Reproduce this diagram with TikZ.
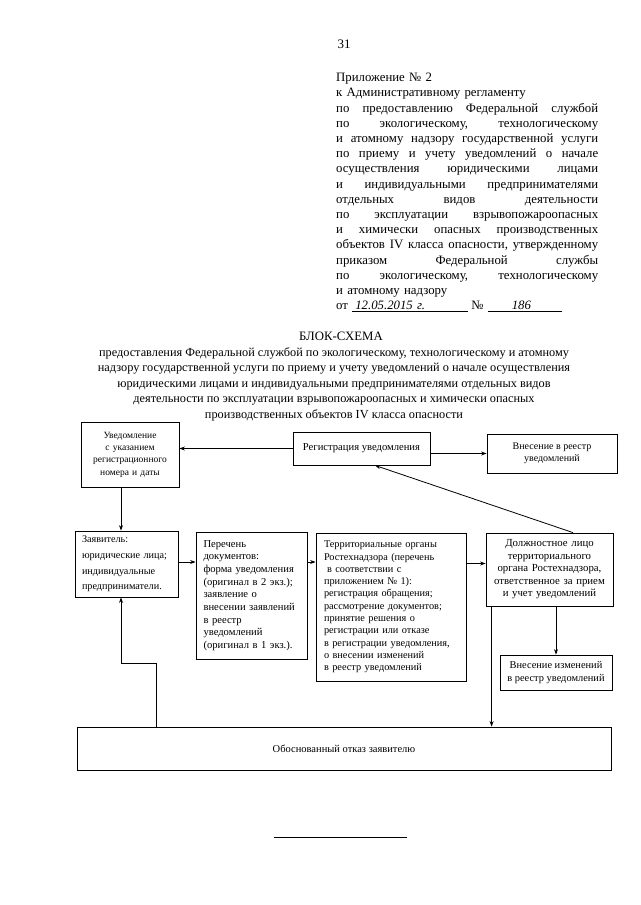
\documentclass[tikz,border=0pt]{standalone}
\usepackage{fontspec}
\setmainfont{Liberation Serif}
\usetikzlibrary{positioning, arrows.meta}
\newlength{\hdrw}\setlength{\hdrw}{262pt}
\newcommand{\jline}[1]{\leavevmode\hbox to \hdrw{#1}\\}

\begin{document}
\begin{tikzpicture}[x=1pt, y=-1pt, >={Stealth[length=5.5pt, width=4pt]},
    box/.style={draw, line width=0.8pt, inner sep=0pt, font=\fontsize{10}{12.4}\selectfont},
    link/.style={->, line width=0.8pt}]
    \useasboundingbox [fill=white] (0,0) rectangle (640,905);
    \node at (344,44) [font=\fontsize{13}{15}\selectfont] (pagenum) {31};
    \node at (336,73) [anchor=north west, inner sep=0pt, text width=262pt, align=left, font=\fontsize{12.8}{15.2}\selectfont] (appx) {%
        Приложение № 2\\
        к Административному регламенту\\
        \jline{по \hfill предоставлению \hfill Федеральной \hfill службой}
        \jline{по \hfill экологическому, \hfill технологическому}
        \jline{и \hfill атомному \hfill надзору \hfill государственной \hfill услуги}
        \jline{по \hfill приему \hfill и \hfill учету \hfill уведомлений \hfill о \hfill начале}
        \jline{осуществления \hfill юридическими \hfill лицами}
        \jline{и \hfill индивидуальными \hfill предпринимателями}
        \jline{отдельных \hfill видов \hfill деятельности}
        \jline{по \hfill эксплуатации \hfill взрывопожароопасных}
        \jline{и \hfill химически \hfill опасных \hfill производственных}
        \jline{объектов \hfill IV \hfill класса \hfill опасности, \hfill утвержденному}
        \jline{приказом \hfill Федеральной \hfill службы}
        \jline{по \hfill экологическому, \hfill технологическому}
        и атомному надзору\\
        от \underline{\makebox[116pt][l]{\hspace{3pt}\itshape 12.05.2015 г.}}\hspace{3pt}№ \underline{\makebox[74pt][l]{\hspace{24pt}\itshape 186}}};
    \node at (341,336) [font=\fontsize{12.8}{15}\selectfont] (title) {БЛОК-СХЕМА};
    \node at (334,344) [anchor=north, align=center, font=\fontsize{12.3}{15.5}\selectfont] (subtitle) {%
        предоставления Федеральной службой по экологическому, технологическому и атомному\\
        надзору государственной услуги по приему и учету уведомлений о начале осуществления\\
        юридическими лицами и индивидуальными предпринимателями отдельных видов\\
        деятельности по эксплуатации взрывопожароопасных и химически опасных\\
        производственных объектов IV класса опасности};

    \node at (130,454.5) [box, minimum width=98, minimum height=65, text width=92, align=center, font=\fontsize{9.5}{12.4}\selectfont] (notice) {Уведомление\\с указанием\\регистрационного\\номера и даты};
    \node at (361.5,448.5) [box, minimum width=137, minimum height=33, align=center, font=\fontsize{10.6}{12.4}\selectfont] (reg) {Регистрация уведомления};
    \node at (552,453.5) [box, minimum width=130, minimum height=39, align=center] (entry) {Внесение в реестр\\уведомлений};
    \node at (126.5,564) [box, minimum width=103, minimum height=66, text width=89, align=left, font=\fontsize{10.2}{15.7}\selectfont] (applicant) {Заявитель:\\юридические лица;\\индивидуальные\\предприниматели.};
    \node at (251.5,595.5) [box, minimum width=111, minimum height=127, text width=96, align=left, font=\fontsize{10.6}{12.7}\selectfont] (docs) {Перечень\\документов:\\форма уведомления\\(оригинал в 2 экз.);\\заявление о\\внесении заявлений\\в реестр\\уведомлений\\(оригинал в 1 экз.).};
    \node at (391,607) [box, minimum width=150, minimum height=148, text width=134, align=left, font=\fontsize{10.3}{12.3}\selectfont] (terr) {Территориальные органы\\Ростехнадзора (перечень\\\hspace*{3pt}в соответствии с\\приложением № 1):\\регистрация обращения;\\рассмотрение документов;\\принятие решения о\\регистрации или отказе\\в регистрации уведомления,\\о внесении изменений\\в реестр уведомлений};
    \node at (549.5,569.5) [box, minimum width=127, minimum height=73, text width=123, align=center, font=\fontsize{10.8}{12.5}\selectfont] (officer) {Должностное лицо\\территориального\\органа Ростехнадзора,\\ответственное за прием\\и учет уведомлений};
    \node at (556,672.5) [box, minimum width=112, minimum height=35, align=center, font=\fontsize{10.4}{12.4}\selectfont] (change) {Внесение изменений\\в реестр уведомлений};
    \node at (344,748.5) [box, minimum width=534, minimum height=43, font=\fontsize{10.5}{12.4}\selectfont] (refusal) {Обоснованный отказ заявителю};

    \coordinate (bendR) at (156,663);
    \coordinate (bendL) at (121,663);
    \draw [link] (reg.west) -- (reg.west -| notice.east);
    \draw [link] (entry.west -| reg.east) -- (entry.west);
    \draw [link] ([xshift=23.5]officer.north) -- ([xshift=13.5]reg.south);
    \draw [link] ([xshift=-9]notice.south) -- ([xshift=-9]notice.south |- applicant.north);
    \draw [link] ([yshift=2]applicant.east) -- ([yshift=2]applicant.east -| docs.west);
    \draw [link] ([yshift=2]applicant.east -| docs.east) -- ([yshift=2]applicant.east -| terr.west);
    \draw [link] ([yshift=6]officer.west -| terr.east) -- ([yshift=6]officer.west);
    \draw [link] (change.north |- officer.south) -- (change.north);
    \draw [link] ([xshift=6]officer.south west) -- ([xshift=6]officer.south west |- refusal.north);
    \draw [link] (refusal.north -| bendR) -- (bendR) -- (bendL) -- (bendL |- applicant.south);
    \draw (274,837) -- (407,837);
\end{tikzpicture}
\end{document}
